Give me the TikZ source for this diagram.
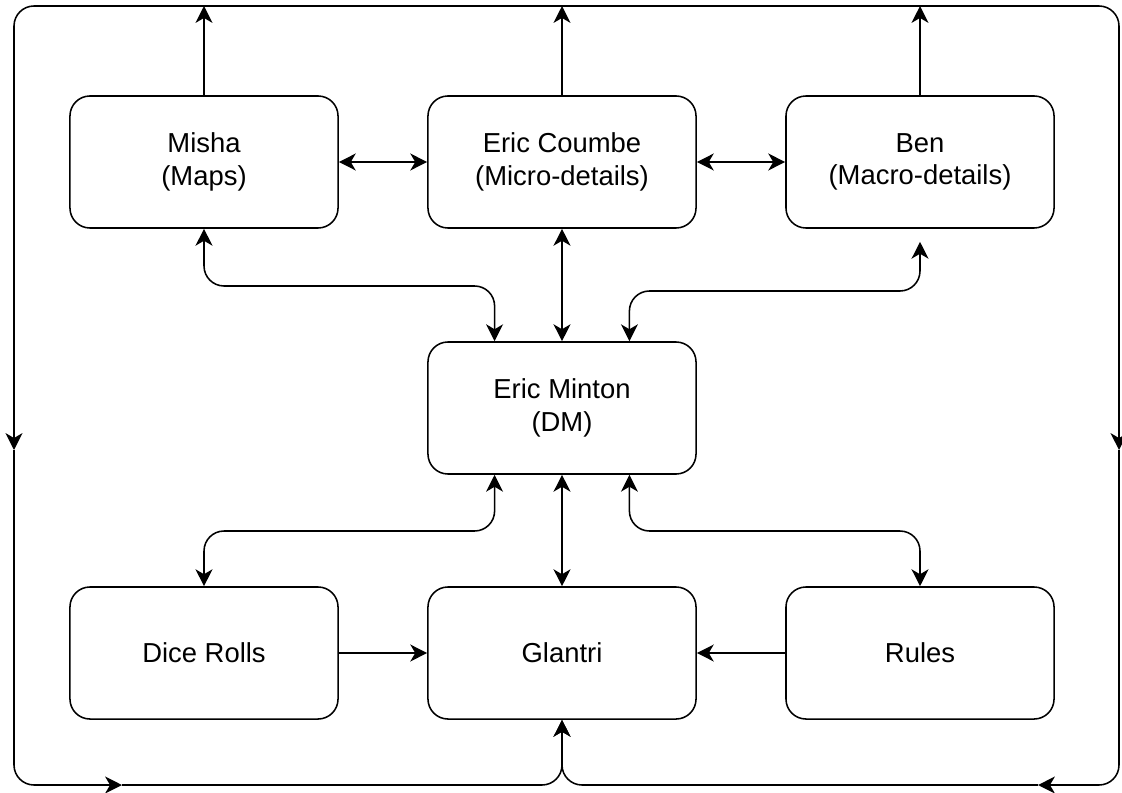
\documentclass[tikz,border=0pt]{standalone}
\usepackage{fontspec}
\setmainfont{Liberation Sans}
\usetikzlibrary{arrows.meta,calc,positioning}
\tikzset{
  box/.style={draw,line width=1.1pt,rounded corners=0.5cm,minimum width=6.7cm,minimum height=3.3cm,align=center,font=\fontsize{19.5}{23}\selectfont},
  arr/.style={line width=1.1pt,-{Stealth[length=12pt,width=12pt,inset=3.5pt]}},
  dbl/.style={line width=1.1pt,{Stealth[length=12pt,width=12pt,inset=3.5pt]}-{Stealth[length=12pt,width=12pt,inset=3.5pt]}},
  loop/.style={arr,rounded corners=0.5cm},
}

\begin{document}
\begin{tikzpicture}[x=0.025cm,y=-0.025cm]
\useasboundingbox (0,0) rectangle (1122,793);
% boxes
\node[box] (misha)  at (204,162) {Misha\\(Maps)};
\node[box] (coumbe) at (562,162) {Eric Coumbe\\(Micro-details)};
\node[box] (ben)    at (920,162) {Ben\\(Macro-details)};
\node[box] (minton) at (562,408) {Eric Minton\\(DM)};
\node[box] (dice)    at (204,653) {Dice Rolls};
\node[box] (glantri) at (562,653) {Glantri};
\node[box] (rules)   at (920,653) {Rules};
% outer loop
\coordinate (tl) at (14,6);
\coordinate (tr) at (1119,6);
\coordinate (bl) at (14,785);
\coordinate (br) at (1119,785);
\coordinate (bm) at (562,785);
\draw[arr] (misha.north) -- (misha.north |- tl);
\draw[arr] (coumbe.north) -- (coumbe.north |- tl);
\draw[arr] (ben.north) -- (ben.north |- tl);
\draw[loop] (coumbe.north |- tl) -- (tl) -- (14,450);
\draw[loop] (14,450) -- (bl) -- (122,785);
\draw[loop] (122,785) -- (bm) -- (glantri.south);
\draw[loop] (coumbe.north |- tr) -- (tr) -- (1119,450);
\draw[loop] (1119,450) -- (br) -- (1038,785);
\draw[loop] (1038,785) -- (bm) -- (glantri.south);
% top row
\draw[dbl] (misha.east) -- (coumbe.west);
\draw[dbl] (coumbe.east) -- (ben.west);
% to and from the DM
\coordinate (mtl) at ($(minton.north)!0.5!(minton.north west)$);
\coordinate (mtr) at ($(minton.north)!0.5!(minton.north east)$);
\coordinate (mbl) at ($(minton.south)!0.5!(minton.south west)$);
\coordinate (mbr) at ($(minton.south)!0.5!(minton.south east)$);
\draw[dbl,rounded corners=0.5cm] (misha.south) -- (misha.south |- 0,286) -| (mtl);
\draw[dbl] (coumbe.south) -- (minton.north);
\draw[dbl,rounded corners=0.5cm] ($(ben.south)+(0,13)$) -- (ben.south |- 0,291) -| (mtr);
\draw[dbl,rounded corners=0.5cm] (mbl) -- (mbl |- 0,531) -| (dice.north);
\draw[dbl] (minton.south) -- (glantri.north);
\draw[dbl,rounded corners=0.5cm] (mbr) -- (mbr |- 0,531) -| (rules.north);
% bottom row
\draw[arr] (dice.east) -- (glantri.west);
\draw[arr] (rules.west) -- (glantri.east);
\end{tikzpicture}
\end{document}
